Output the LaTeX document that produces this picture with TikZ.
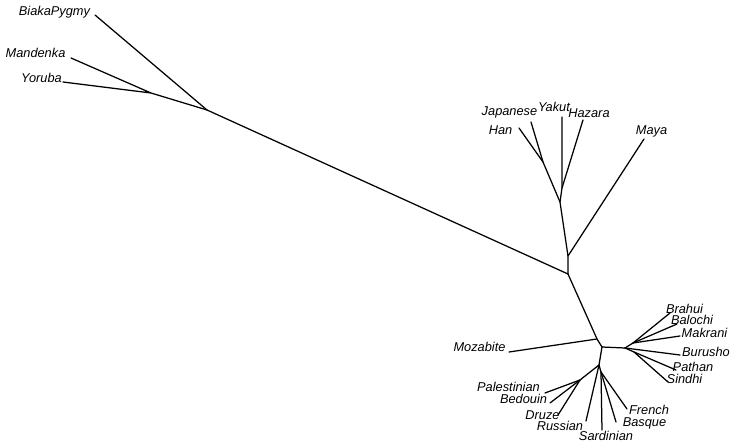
\documentclass[tikz,border=0pt]{standalone}
\usepackage{fontspec}
\setmainfont{Liberation Sans}
\begin{document}
\begin{tikzpicture}[x=1pt,y=-1pt,
  br/.style={line width=1.25pt,line cap=round,line join=round},
  lab/.style={inner sep=0pt,font=\fontsize{12.8}{14}\selectfont\itshape}]
\useasboundingbox (0,0) rectangle (740,446);
% internal nodes
\coordinate (afr) at (207,110);
\coordinate (my) at (151,93);
\coordinate (ctr) at (568,274);
\coordinate (amr) at (568,256);
\coordinate (eas) at (560,202);
\coordinate (hy) at (562,188);
\coordinate (hj) at (543,162);
\coordinate (mz) at (597,339);
\coordinate (we) at (602,347);
\coordinate (sa) at (625,348);
\coordinate (sa1) at (633,343);
\coordinate (sa2) at (634,352);
\coordinate (eu) at (599,365);
\coordinate (me) at (580,380);
\coordinate (eu2) at (601,372);
% leaves
\coordinate (lBia) at (95,15);
\coordinate (lMan) at (71,58);
\coordinate (lYor) at (63,82);
\coordinate (lJap) at (531,122);
\coordinate (lYak) at (562,117);
\coordinate (lHaz) at (583,120);
\coordinate (lHan) at (519,128);
\coordinate (lMay) at (644,139);
\coordinate (lMoz) at (509,352);
\coordinate (lBra) at (670,313);
\coordinate (lBal) at (677,324);
\coordinate (lMak) at (680,336);
\coordinate (lBur) at (680,355);
\coordinate (lPat) at (676,370);
\coordinate (lSin) at (668,382);
\coordinate (lPal) at (545,393);
\coordinate (lBed) at (550,403);
\coordinate (lDru) at (558,415);
\coordinate (lRus) at (586,421);
\coordinate (lSar) at (602,430);
\coordinate (lBas) at (616,422);
\coordinate (lFre) at (627,409);
% branches
\draw[br] (lBia) -- (afr) -- (ctr);
\draw[br] (lMan) -- (my) (lYor) -- (my) -- (afr);
\draw[br] (ctr) -- (amr) -- (eas) -- (hy) -- (lYak);
\draw[br] (hy) -- (lHaz);
\draw[br] (eas) -- (hj) -- (lHan);
\draw[br] (hj) -- (lJap);
\draw[br] (amr) -- (lMay);
\draw[br] (ctr) -- (mz) -- (we);
\draw[br] (mz) -- (lMoz);
\draw[br] (we) -- (sa);
\draw[br] (sa) -- (sa1) -- (lBra);
\draw[br] (sa1) -- (lBal);
\draw[br] (sa1) -- (lMak);
\draw[br] (sa) -- (lBur);
\draw[br] (sa) -- (sa2) -- (lPat);
\draw[br] (sa2) -- (lSin);
\draw[br] (we) -- (eu) -- (me) -- (lPal);
\draw[br] (me) -- (lBed);
\draw[br] (me) -- (lDru);
\draw[br] (eu) -- (lRus);
\draw[br] (eu) -- (eu2) -- (lSar);
\draw[br] (eu2) -- (lBas);
\draw[br] (eu2) -- (lFre);
% labels
\node[lab] (tBia) at (54.5,12) {BiakaPygmy};
\node[lab] (tMan) at (35.5,53) {Mandenka};
\node[lab] (tYor) at (41.5,78) {Yoruba};
\node[lab] (tJap) at (509.5,112) {Japanese};
\node[lab] (tYak) at (554,107) {Yakut};
\node[lab] (tHaz) at (589,113) {Hazara};
\node[lab] (tHan) at (500.5,130) {Han};
\node[lab] (tMay) at (651.5,131) {Maya};
\node[lab] (tMoz) at (479.5,347) {Mozabite};
\node[lab] (tBra) at (684.5,308.5) {Brahui};
\node[lab] (tBal) at (692,320) {Balochi};
\node[lab] (tMak) at (704.5,333) {Makrani};
\node[lab] (tBur) at (706,352) {Burusho};
\node[lab] (tPat) at (693,367) {Pathan};
\node[lab] (tSin) at (684.5,379) {Sindhi};
\node[lab] (tPal) at (508.5,387) {Palestinian};
\node[lab] (tBed) at (523.5,399) {Bedouin};
\node[lab] (tDru) at (542.5,415) {Druze};
\node[lab] (tRus) at (560,426) {Russian};
\node[lab] (tSar) at (606,436) {Sardinian};
\node[lab] (tBas) at (644.5,423) {Basque};
\node[lab] (tFre) at (649,410) {French};
\end{tikzpicture}
\end{document}
